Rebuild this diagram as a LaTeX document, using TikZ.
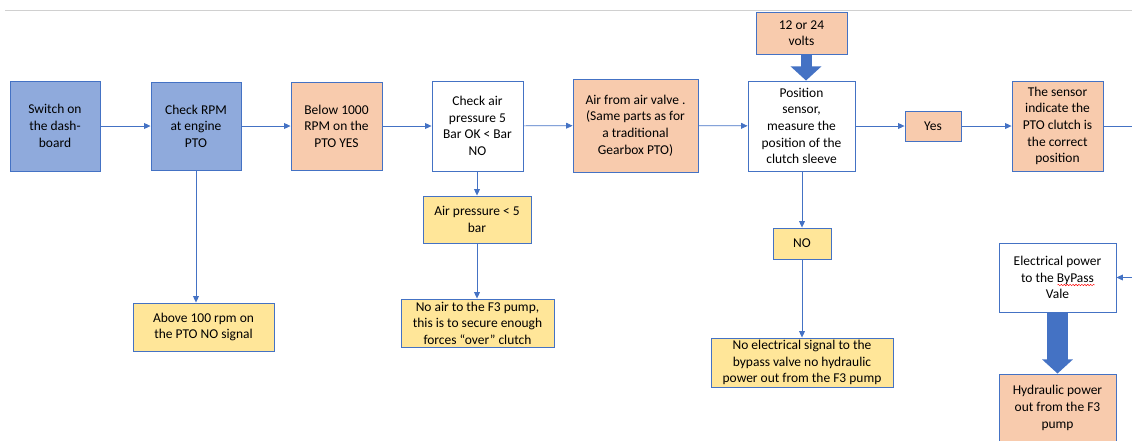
\documentclass[tikz,border=0pt]{standalone}
\usepackage{fontspec}
\setmainfont{Carlito}
\usepackage{xcolor}
\usepackage{tikz}
\usetikzlibrary{positioning, arrows.meta, calc, decorations.pathmorphing}

\definecolor{boxline}{HTML}{4472C4}
\definecolor{boxblue}{HTML}{8FAADC}
\definecolor{boxpeach}{HTML}{F8CBAD}
\definecolor{boxyellow}{HTML}{FFE699}
\definecolor{rulegray}{HTML}{D0D0D0}

\begin{document}
\begin{tikzpicture}[x=0.03cm, y=-0.03cm,
    font=\fontsize{11.5}{14.2}\selectfont,
    box/.style={draw=boxline, line width=0.8pt, align=center, inner sep=0pt},
    bluebox/.style={box, fill=boxblue},
    peachbox/.style={box, fill=boxpeach},
    yellowbox/.style={box, fill=boxyellow},
    whitebox/.style={box, fill=white},
    flow/.style={draw=boxline, line width=0.6pt, -{Triangle[length=5.5pt,width=5pt]}},
    fat/.style={draw=boxline, -{Triangle[length=12pt,width=25.5pt]}}]
    \useasboundingbox (0,0) rectangle (1132,440);

    % rule at the top
    \coordinate (ruleL) at (5,10);
    \coordinate (ruleR) at (1132,10);
    \draw[rulegray, line width=0.8pt] (ruleL) -- (ruleR);

    % main row
    \node[bluebox, minimum width=2.7cm, minimum height=2.7cm] (switch) at (55,126) {Switch on\\the dash-\\board};
    \node[bluebox, minimum width=2.7cm, minimum height=2.64cm] (rpm) at (196,126) {Check RPM\\at engine\\PTO};
    \node[peachbox, minimum width=2.73cm, minimum height=2.64cm] (below) at (336.5,126) {Below 1000\\RPM on the\\PTO YES};
    \node[whitebox, minimum width=2.73cm, minimum height=2.7cm] (air) at (477.5,126) {Check air\\pressure 5\\Bar OK < Bar\\NO};
    \node[peachbox, minimum width=3.75cm, minimum height=2.79cm] (valve) at (635.5,125.5) {Air from air valve .\\(Same parts as for\\a traditional\\Gearbox PTO)};
    \node[whitebox, minimum width=3.21cm, minimum height=2.7cm] (pos) at (801.5,126) {Position\\sensor,\\measure the\\position of the\\clutch sleeve};
    \node[peachbox, minimum width=2.73cm, minimum height=1.26cm] (volts) at (801.5,33) {12 or 24\\volts};
    \node[peachbox, minimum width=1.68cm, minimum height=0.9cm] (yes) at (933,126) {Yes};
    \node[peachbox, minimum width=2.73cm, minimum height=2.7cm] (sensor) at (1057.5,126) {The sensor\\indicate the\\PTO clutch is\\the correct\\position};

    % branches below
    \node[yellowbox, minimum width=4.23cm, minimum height=1.44cm] (above) at (203.5,327) {Above 100 rpm on\\the PTO NO signal};
    \node[yellowbox, minimum width=3.24cm, minimum height=1.41cm] (low) at (477,219.5) {Air pressure < 5\\bar};
    \node[yellowbox, minimum width=4.59cm, minimum height=1.44cm] (noair) at (477.5,323) {No air to the F3 pump,\\this is to secure enough\\forces “over” clutch};
    \node[yellowbox, minimum width=1.74cm, minimum height=0.93cm] (no) at (802,243.5) {NO};
    \node[yellowbox, minimum width=5.46cm, minimum height=1.47cm] (nosignal) at (802,362.5) {No electrical signal to the\\bypass valve no hydraulic\\power out from the F3 pump};
    \node[whitebox, minimum width=3.51cm, minimum height=2.07cm] (bypass) at (1057.5,277.5) {Electrical power\\to the ByPass\\Vale};
    \node[peachbox, minimum width=3.51cm, minimum height=2.04cm] (hydraulic) at (1057.5,408) {Hydraulic power\\out from the F3\\pump};

    % spelling mark under ByPass
    \draw[red, line width=0.4pt, decorate, decoration={snake, amplitude=0.6pt, segment length=2.5pt}]
        ($(bypass.center)+(0,7.5)$) -- ($(bypass.center)+(37,7.5)$);

    % connectors
    \draw[flow] (switch) -- (rpm);
    \draw[flow] (rpm) -- (below);
    \draw[flow] (below) -- (air);
    \draw[flow] (air) -- (valve);
    \draw[flow] (valve) -- (pos);
    \draw[flow] (pos) -- (yes);
    \draw[flow] (yes) -- (sensor);
    \coordinate (outR) at (1132,126);
    \draw[draw=boxline, line width=0.6pt] (sensor) -- (outR);
    \coordinate (inR) at (1132,277.5);
    \draw[flow] (inR) -- (bypass);
    \draw[flow] (rpm.south) -- (rpm.south |- above.north);
    \draw[flow] (air.south -| low) -- (low);
    \draw[flow] (low.south) -- (low.south |- noair.north);
    \draw[flow] (pos.south -| no) -- (no);
    \draw[flow] (no) -- (nosignal);

    % power arrows
    \draw[fat, line width=9.4pt] (volts.south -| 806,0) -- (pos.north -| 806,0);
    \draw[fat, line width=18.7pt] (bypass) -- (hydraulic);
\end{tikzpicture}
\end{document}
